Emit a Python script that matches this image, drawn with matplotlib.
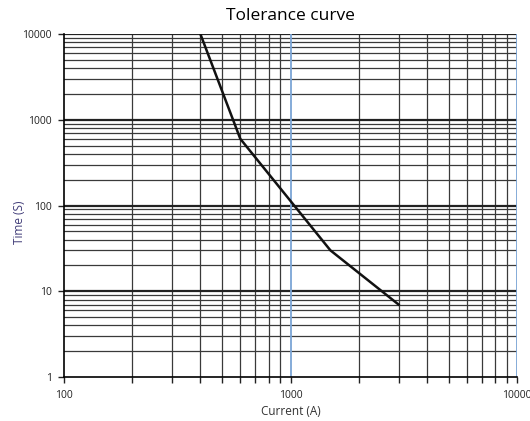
import numpy as np
import matplotlib
matplotlib.use("Agg")
import matplotlib.pyplot as plt
from matplotlib.ticker import FixedLocator, NullFormatter

# tolerance curve data
current = [400, 600, 1500, 3000]
time_s = [10000, 600, 30, 7]

x_ticks = [100, 1000, 10000]
x_labels = ["100", "1000", "10000"]
y_ticks = [1, 10, 100, 1000, 10000]
y_labels = ["1", "10", "100", "1000", "10000"]

plt.rcParams['font.family'] = ['Open Sans', 'DejaVu Sans']

fig = plt.figure(figsize=(5.3, 4.21), dpi=100)
ax = fig.add_axes([0.1208, 0.1045, 0.8547, 0.8147])
ax.set_xscale("log")
ax.set_yscale("log")
ax.set_xlim(100, 10000)
ax.set_ylim(1, 10000)

# grid lines
minor_x = [m * d for d in (100, 1000) for m in range(2, 10)]
minor_y = [m * d for d in (1, 10, 100, 1000) for m in range(2, 10)]
for v in minor_x:
    ax.axvline(v, color="#3a3a3a", lw=0.9, zorder=1)
for v in minor_y:
    ax.axhline(v, color="#3a3a3a", lw=0.9, zorder=1)
for v in y_ticks[1:]:
    ax.axhline(v, color="#222222", lw=1.6, zorder=1)
for v in x_ticks[1:]:
    ax.axvline(v, color="#7ba5d6", lw=1.3, zorder=2)

ax.plot(current, time_s, color="#111111", lw=1.8, zorder=3)

ax.xaxis.set_major_locator(FixedLocator(x_ticks))
ax.set_xticklabels(x_labels)
ax.xaxis.set_minor_locator(FixedLocator(minor_x))
ax.xaxis.set_minor_formatter(NullFormatter())
ax.yaxis.set_major_locator(FixedLocator(y_ticks))
ax.set_yticklabels(y_labels)
ax.yaxis.set_minor_locator(FixedLocator([]))

ax.tick_params(axis="both", which="major", direction="out", length=4, width=1,
               labelsize=7.5, colors="#222222", pad=5)
ax.tick_params(axis="x", which="minor", direction="out", length=4, width=1, color="#222222")

for s in ["top", "right"]:
    ax.spines[s].set_visible(False)
ax.spines["left"].set_linewidth(1.2)
ax.spines["bottom"].set_linewidth(1.2)

ax.set_title("Tolerance curve", fontsize=12.5, pad=10)
ax.set_xlabel("Current (A)", fontsize=8.5, color="#333333")
ax.set_ylabel("Time (S)", fontsize=8.5, color="#403c78")
ax.xaxis.set_label_coords(0.5, -0.083)
ax.yaxis.set_label_coords(-0.084, 0.452)

fig.savefig("out.png", dpi=100)
